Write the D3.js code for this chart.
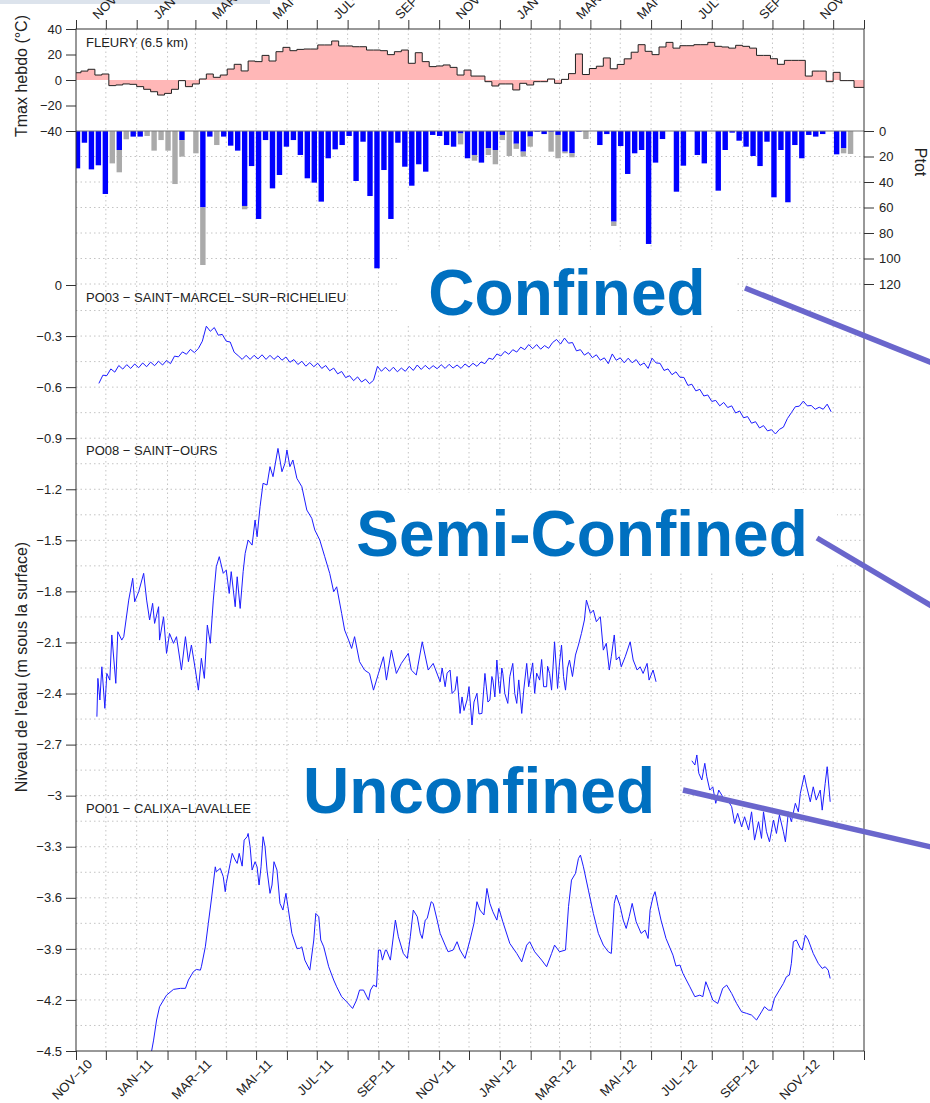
<!DOCTYPE html>
<html>
<head>
<meta charset="utf-8">
<script src="https://cdn.jsdelivr.net/npm/d3@7"></script>
<style>
  body { margin: 0; background: #fff; }
  svg text { font-family: "Liberation Sans", Arial, Helvetica, sans-serif; }
</style>
</head>
<body>
<svg id="chart" width="930" height="1103"></svg>
<script>
// weekly series, week i starts 2010-10-30 + 7*i days
const tmax = [5.7, 7, 8.4, 3.9, 4.7, -4.4, -3.9, -3.1, -3.4, -5.2,
  -7.3, -9.2, -11.8, -10.5, -7.3, -0.5, -5.2, -3.1, 0.8, 4.7,
  2.1, 3.9, 8.6, 12.3, 7.1, 14.9, 14.4, 19.3, 14.9, 22.2,
  25.6, 23, 24, 24.3, 24.3, 27.5, 27.5, 30.6, 26.7, 26.7,
  26.1, 26.1, 23.5, 23.5, 23, 19.9, 22.2, 23.5, 13.1, 21.4,
  14.4, 10.5, 11, 11.8, 9.9, 3.9, 7.8, 3.1, 3.1, -1.3,
  -4.7, -3.1, -3.1, -7.8, -2.6, -3.9, -1.3, -1.3, 0.8, -2.6,
  0.5, 5, 20.4, 4.3, 9, 10.8, 17.3, 8.8, 12.2, 16.6,
  21.8, 27.7, 22.5, 19.9, 25.9, 29.5, 25, 26.9, 26.9, 27.7,
  27.7, 29.5, 26.4, 25.9, 25, 27.2, 26.4, 25, 19.3, 19.3,
  16.7, 12.3, 15.4, 15.4, 15.4, 3.1, 7, 7, -1.3, 6,
  -0.5, -0.5, -5.8, -5.8];

// weekly precipitation: rain (blue) and snow (grey, stacked below)
const rain = [29.3, 9.2, 30.1, 26.9, 49.4, 0, 14.9, 0, 4.4, 4.4,
  0, 0, 0, 0, 0, 7.1, 0, 0, 59.9, 4.4,
  0, 4.4, 11.5, 15.4, 58.8, 27.5, 69, 7.1, 45, 34.5,
  12.3, 7.1, 18.8, 37.1, 40.5, 55.4, 21.4, 14.4, 11, 3.9,
  39.2, 8.4, 51, 107.7, 30.6, 69, 9.2, 28, 42.9, 26.1,
  31.9, 3.1, 3.9, 11, 12.3, 2, 21.4, 18.8, 24.8, 13.6,
  14.9, 3.1, 0, 10, 16.2, 4.4, 0.5, 2.4, 0.6, 3.1,
  16.2, 17.5, 0.5, 0, 0, 11, 2.4, 71.1, 11.8, 33.7,
  17.5, 14.9, 88.6, 24.8, 6.3, 0, 47.6, 27.2, 0, 18.8,
  25.4, 0, 46.8, 14.9, 1.3, 7.6, 12.3, 19.6, 27.5, 8.4,
  52, 14.9, 55.9, 11, 21.4, 3.1, 4.4, 2.4, 0, 18.3,
  13.6, 0, 0];
const snow = [0, 0, 0, 0, 0, 25.4, 17.5, 6.5, 0, 0,
  3.9, 15.4, 7.1, 15.4, 41.6, 13, 0, 17.5, 45.2, 0,
  11, 0, 0, 0, 2.6, 0, 0, 0, 0, 0,
  0, 0, 0, 0, 0, 0, 0, 0, 0, 0,
  0, 0, 0, 0, 0, 0, 0, 0, 0, 0,
  0, 0, 0, 0, 0, 8.5, 0, 4.5, 0, 5.2,
  11.2, 4, 19.6, 4, 3.9, 7.9, 0, 0, 15.6, 18.3,
  1.3, 3.1, 0, 6.3, 0, 0, 0, 3.4, 0, 0,
  0, 0, 0, 0, 0, 0, 0, 0, 0, 0,
  0, 0, 0, 0, 0, 0, 0, 0, 0, 0,
  0, 0, 0, 0, 0, 0, 0, 0, 0, 0,
  3.9, 18, 0];

// PO03: one reading every 4 days from day 23 (days counted from 2010-11-01)
const po03 = [-0.578, -0.530, -0.532, -0.493, -0.512, -0.473, -0.494, -0.468, -0.490, -0.464,
  -0.486, -0.458, -0.480, -0.453, -0.474, -0.448, -0.470, -0.443, -0.462, -0.418,
  -0.422, -0.393, -0.407, -0.378, -0.397, -0.373, -0.330, -0.242, -0.272, -0.250,
  -0.295, -0.290, -0.330, -0.335, -0.395, -0.415, -0.437, -0.413, -0.437, -0.413,
  -0.434, -0.410, -0.437, -0.413, -0.437, -0.416, -0.442, -0.423, -0.454, -0.438,
  -0.467, -0.448, -0.477, -0.456, -0.480, -0.460, -0.490, -0.473, -0.504, -0.488,
  -0.522, -0.508, -0.544, -0.533, -0.562, -0.540, -0.570, -0.553, -0.580, -0.560,
  -0.478, -0.507, -0.483, -0.507, -0.483, -0.510, -0.488, -0.507, -0.478, -0.502,
  -0.470, -0.496, -0.472, -0.494, -0.474, -0.492, -0.468, -0.490, -0.466, -0.488,
  -0.470, -0.490, -0.464, -0.482, -0.460, -0.478, -0.452, -0.462, -0.430, -0.437,
  -0.405, -0.417, -0.390, -0.407, -0.380, -0.394, -0.365, -0.380, -0.350, -0.374,
  -0.350, -0.377, -0.356, -0.372, -0.338, -0.320, -0.347, -0.312, -0.342, -0.338,
  -0.387, -0.380, -0.412, -0.396, -0.427, -0.410, -0.442, -0.428, -0.462, -0.405,
  -0.442, -0.428, -0.457, -0.430, -0.457, -0.438, -0.472, -0.458, -0.490, -0.430,
  -0.458, -0.460, -0.502, -0.493, -0.527, -0.510, -0.542, -0.543, -0.590, -0.583,
  -0.622, -0.613, -0.652, -0.646, -0.684, -0.678, -0.710, -0.690, -0.720, -0.710,
  -0.752, -0.740, -0.780, -0.773, -0.812, -0.803, -0.840, -0.826, -0.857, -0.850,
  -0.875, -0.848, -0.835, -0.785, -0.750, -0.715, -0.712, -0.682, -0.710, -0.708,
  -0.730, -0.718, -0.730, -0.700, -0.745];

// PO08 and PO01: [day since 2010-11-01, level in m]
const po08a = [[21,-2.536],[22,-2.311],[24,-2.438],[26,-2.243],[29,-2.487],[31,-2.282],[34,-2.321],[36,-2.056],
  [40,-2.340],[42,-2.037],[46,-2.086],[48,-2.066],[53,-1.851],[57,-1.723],[59,-1.861],[63,-1.802],
  [68,-1.694],[71,-1.851],[74,-1.968],[77,-1.870],[79,-1.988],[83,-1.890],[84,-2.086],[88,-1.949],
  [91,-2.164],[94,-2.047],[98,-2.105],[101,-2.066],[106,-2.262],[110,-2.066],[113,-2.213],[116,-2.115],
  [120,-2.262],[123,-2.380],[126,-2.193],[129,-2.311],[132,-1.998],[135,-2.105],[138,-1.851],[141,-1.655],
  [144,-1.596],[148,-1.694],[151,-1.675],[154,-1.812],[156,-1.684],[160,-1.890],[162,-1.714],[165,-1.900],
  [168,-1.684],[170,-1.577],[173,-1.498],[177,-1.528],[180,-1.381],[182,-1.479],[185,-1.302],[188,-1.165],
  [192,-1.175],[195,-1.067],[198,-1.126],[203,-0.960],[207,-1.097],[210,-1.048],[212,-0.969],[215,-1.067],
  [218,-1.028],[222,-1.136],[227,-1.185],[232,-1.322],[237,-1.371],[240,-1.439],[245,-1.498],[250,-1.596],
  [255,-1.694],[259,-1.802],[262,-1.773],[267,-1.929],[270,-2.027],[274,-2.086],[277,-2.135],[280,-2.066],
  [285,-2.213],[290,-2.262],[295,-2.282],[299,-2.380],[304,-2.282],[309,-2.184],[312,-2.321],[317,-2.145],
  [322,-2.282],[327,-2.223],[334,-2.164],[337,-2.262],[342,-2.291],[348,-2.096],[354,-2.262],[359,-2.223],
  [366,-2.331],[368,-2.250],[371,-2.360],[373,-2.280],[376,-2.262],[378,-2.400],[381,-2.380],[383,-2.300],
  [386,-2.517],[388,-2.420],[390,-2.500],[393,-2.438],[395,-2.360],[398,-2.585],[400,-2.450],[403,-2.399],
  [405,-2.520],[408,-2.517],[410,-2.360],[411,-2.282],[414,-2.450],[416,-2.438],[418,-2.300],[419,-2.321],
  [421,-2.420],[423,-2.203],[425,-2.350],[426,-2.399],[428,-2.250],[429,-2.282],[431,-2.400],[434,-2.458],
  [436,-2.300],[439,-2.223],[441,-2.400],[443,-2.458],[445,-2.320],[448,-2.517],[450,-2.380],[453,-2.223],
  [455,-2.360],[456,-2.321],[459,-2.220],[461,-2.399],[463,-2.280],[466,-2.321],[468,-2.200],[470,-2.360],
  [473,-2.360],[474,-2.240],[476,-2.282],[478,-2.380],[481,-2.096],[484,-2.370],[486,-2.220],[488,-2.115],
  [490,-2.300],[492,-2.380],[494,-2.250],[496,-2.203],[499,-2.300],[502,-2.174],[505,-2.115],
  [508,-2.047],[511,-1.968],[513,-1.851],[517,-1.929],[520,-1.910],[523,-1.978],[527,-1.949],[530,-2.145],
  [533,-2.105],[536,-2.262],[538,-2.184],[541,-2.056],[543,-2.203],[546,-2.184],[548,-2.243],[552,-2.184],
  [557,-2.096],[560,-2.203],[564,-2.262],[567,-2.243],[570,-2.282],[574,-2.223],[576,-2.321],[580,-2.262],
  [583,-2.331]];
const po08b = [[619,-2.795],[622,-2.820],[624,-2.761],[626,-2.869],[629,-2.908],[632,-2.810],[634,-2.889],
  [637,-2.967],[640,-2.948],[643,-3.045],[646,-2.967],[651,-3.016],[656,-3.036],[659,-3.065],[662,-3.163],
  [665,-3.104],[669,-3.183],[672,-3.124],[676,-3.202],[679,-3.095],[682,-3.261],[686,-3.153],[689,-3.251],
  [691,-3.095],[694,-3.212],[697,-3.271],[701,-3.143],[704,-3.222],[707,-3.114],[711,-3.212],[713,-3.271],
  [716,-3.095],[719,-3.153],[723,-3.045],[726,-3.095],[728,-2.987],[732,-2.879],[734,-2.938],[738,-3.036],
  [741,-2.948],[744,-3.026],[748,-2.967],[750,-3.085],[753,-2.928],[755,-2.830],[757,-2.967],[758,-3.036]];
const po01 = [[76,-4.5],[78,-4.436],[81,-4.318],[84,-4.240],[91,-4.172],[98,-4.138],[105,-4.132],[110,-4.132],
  [113,-4.083],[118,-4.034],[121,-4.021],[125,-4.025],[126,-4.005],[130,-3.888],[133,-3.750],[136,-3.613],
  [140,-3.418],[141,-3.447],[145,-3.427],[148,-3.476],[150,-3.564],[151,-3.515],[155,-3.398],[157,-3.339],
  [160,-3.378],[162,-3.398],[164,-3.339],[167,-3.414],[169,-3.261],[172,-3.241],[173,-3.222],[175,-3.300],
  [177,-3.437],[180,-3.388],[182,-3.418],[184,-3.525],[186,-3.418],[188,-3.241],[190,-3.300],[192,-3.437],
  [195,-3.574],[197,-3.525],[199,-3.388],[202,-3.437],[205,-3.633],[208,-3.672],[211,-3.574],[213,-3.652],
  [217,-3.809],[222,-3.897],[225,-3.897],[227,-3.888],[230,-3.966],[235,-4.025],[239,-3.848],[241,-3.692],
  [244,-3.711],[246,-3.848],[249,-3.888],[254,-4.005],[259,-4.083],[262,-4.123],[267,-4.181],[272,-4.211],
  [278,-4.250],[282,-4.201],[285,-4.142],[289,-4.142],[294,-4.201],[296,-4.142],[299,-4.113],[302,-4.123],
  [304,-3.907],[306,-3.907],[308,-3.966],[311,-3.907],[312,-3.907],[316,-3.966],[321,-3.731],[324,-3.829],
  [329,-3.927],[333,-3.956],[336,-3.829],[339,-3.672],[343,-3.711],[346,-3.809],[348,-3.839],[351,-3.731],
  [353,-3.721],[357,-3.623],[359,-3.633],[363,-3.731],[366,-3.809],[371,-3.878],[374,-3.917],[379,-3.907],
  [383,-3.858],[386,-3.907],[391,-3.956],[396,-3.848],[400,-3.750],[403,-3.623],[406,-3.672],[410,-3.701],
  [413,-3.545],[416,-3.633],[419,-3.682],[423,-3.731],[425,-3.662],[429,-3.741],[436,-3.868],[443,-3.927],
  [448,-3.976],[453,-3.878],[456,-3.858],[461,-3.917],[468,-3.966],[473,-4.005],[478,-3.927],[481,-3.878],
  [486,-3.917],[492,-3.907],[495,-3.652],[498,-3.496],[502,-3.457],[505,-3.369],[507,-3.349],[510,-3.418],
  [515,-3.555],[520,-3.692],[525,-3.809],[530,-3.878],[535,-3.917],[538,-3.927],[541,-3.633],[543,-3.584],
  [547,-3.652],[550,-3.731],[553,-3.780],[556,-3.711],[559,-3.633],[563,-3.741],[568,-3.809],[572,-3.790],
  [575,-3.839],[577,-3.672],[580,-3.594],[582,-3.564],[585,-3.652],[588,-3.731],[593,-3.839],[600,-3.937],
  [603,-4.001],[607,-3.995],[610,-4.044],[617,-4.123],[622,-4.181],[627,-4.172],[630,-4.181],[633,-4.093],
  [637,-4.152],[640,-4.201],[645,-4.221],[650,-4.132],[654,-4.113],[659,-4.162],[664,-4.221],[669,-4.270],
  [674,-4.279],[679,-4.289],[684,-4.318],[689,-4.270],[692,-4.240],[696,-4.260],[699,-4.260],[702,-4.191],
  [707,-4.142],[711,-4.103],[714,-4.064],[717,-4.054],[719,-3.985],[721,-3.858],[724,-3.848],[728,-3.897],
  [730,-3.907],[733,-3.819],[736,-3.848],[741,-3.927],[746,-3.985],[750,-4.015],[753,-4.005],[756,-4.025],
  [758,-4.074]];

const tempTicks = [40, 20, 0, -20, -40];
const precipTicks = [0, 20, 40, 60, 80, 100, 120];
const levelTicks = d3.range(0, 16).map(i => -i * 3 / 10);
const monthNames = ["JAN", "FEV", "MAR", "AVR", "MAI", "JUN", "JUL", "AOU", "SEP", "OCT", "NOV", "DEC"];
const panelNames = ["FLEURY (6.5 km)", "PO03 \u2212 SAINT\u2212MARCEL\u2212SUR\u2212RICHELIEU",
  "PO08 \u2212 SAINT\u2212OURS", "PO01 \u2212 CALIXA\u2212LAVALLEE"];

const svg = d3.select("#chart");
const L = 76, R = 864, T = 29, B = 1051;

const origin = new Date(Date.UTC(2010, 10, 1));
const day = d => new Date(origin.getTime() + d * 864e5);
const x = d3.scaleUtc().domain([origin, new Date(Date.UTC(2013, 0, 1))]).range([L, R]);
const yT = d3.scaleLinear().domain([-40, 40]).range([131, T]);
const yP = d3.scaleLinear().domain([0, 120]).range([131, 284]);
const yW = d3.scaleLinear().domain([-4.5, 0]).range([B, 285]);

svg.append("rect").attr("x", 0).attr("y", 0).attr("width", 270).attr("height", 4).attr("fill", "#dce3ec");

svg.append("clipPath").attr("id", "plot")
  .append("rect").attr("x", L).attr("y", T).attr("width", R - L).attr("height", B - T);

// grid
const months = d3.utcMonth.range(origin, new Date(Date.UTC(2013, 0, 2)));
const grid = svg.append("g").attr("stroke", "#c4c4c4").attr("stroke-dasharray", "1.5,3");
grid.selectAll(".v").data(months.slice(1, -1)).join("line")
  .attr("x1", d => x(d)).attr("x2", d => x(d)).attr("y1", T).attr("y2", B);
grid.selectAll(".hp").data(precipTicks.slice(1)).join("line")
  .attr("x1", L).attr("x2", R).attr("y1", d => yP(d)).attr("y2", d => yP(d));
grid.selectAll(".hw").data(d3.range(1, 30).map(i => -i * 0.15)).join("line")
  .attr("x1", L).attr("x2", R).attr("y1", d => yW(d)).attr("y2", d => yW(d));

// white boxes of the slide labels
const boxes = [[400, 250, 335, 73], [350, 493, 487, 79], [290, 745, 390, 93]];
svg.selectAll(".box").data(boxes).join("rect")
  .attr("x", d => d[0]).attr("y", d => d[1]).attr("width", d => d[2]).attr("height", d => d[3])
  .attr("fill", "#fff");

const plot = svg.append("g").attr("clip-path", "url(#plot)");

// temperature steps
const weeks = tmax.map((t, i) => ({ date: day(-2 + 7 * i), t }));
weeks.push({ date: day(-2 + 7 * tmax.length), t: tmax[tmax.length - 1] });
plot.append("path").datum(weeks)
  .attr("fill", "#ffb7b7")
  .attr("d", d3.area().curve(d3.curveStepAfter).x(d => x(d.date)).y0(yT(0)).y1(d => yT(d.t)));
plot.append("path").datum(weeks)
  .attr("fill", "none").attr("stroke", "#222").attr("stroke-width", 1)
  .attr("d", d3.line().curve(d3.curveStepAfter).x(d => x(d.date)).y(d => yT(d.t)));

// precipitation bars
const bars = rain.map((r, i) => ({ mid: day(1.5 + 7 * i), r, s: snow[i] }));
plot.selectAll(".rain").data(bars).join("rect")
  .attr("x", d => x(d.mid) - 2.7).attr("width", 5.4)
  .attr("y", yP(0)).attr("height", d => yP(d.r) - yP(0))
  .attr("fill", "#0000ff");
plot.selectAll(".snow").data(bars.filter(d => d.s > 0)).join("rect")
  .attr("x", d => x(d.mid) - 2.7).attr("width", 5.4)
  .attr("y", d => yP(d.r)).attr("height", d => yP(d.r + d.s) - yP(d.r))
  .attr("fill", "#aaaaaa");

// water levels
const lvl = d3.line().x(d => x(day(d[0]))).y(d => yW(d[1]));
const po03pts = po03.map((v, k) => [23 + 4 * k, v]);
[po03pts, po08a, po08b, po01].forEach(s => {
  plot.append("path").datum(s)
    .attr("fill", "none").attr("stroke", "#1c1cff").attr("stroke-width", 1)
    .attr("stroke-linejoin", "round").attr("d", lvl);
});

// frame and axes
svg.append("line").attr("x1", L).attr("x2", R).attr("y1", 131).attr("y2", 131)
  .attr("stroke", "#777");
svg.append("rect").attr("x", L).attr("y", T).attr("width", R - L).attr("height", B - T)
  .attr("fill", "none").attr("stroke", "#333");

function style(g) {
  g.select(".domain").remove();
  g.selectAll(".tick line").attr("stroke", "#333");
  g.selectAll(".tick text").attr("fill", "#222").attr("font-size", 13)
    .attr("font-family", "Liberation Sans, Arial, sans-serif");
}
svg.append("g").attr("transform", `translate(${L},0)`)
  .call(d3.axisLeft(yT).tickValues(tempTicks).tickSize(10).tickPadding(4).tickFormat(d3.format("d")))
  .call(style);
svg.append("g").attr("transform", `translate(${L},0)`)
  .call(d3.axisLeft(yW).tickValues(levelTicks).tickSize(10).tickPadding(4).tickFormat(d3.format("~g")))
  .call(style);
svg.append("g").attr("transform", `translate(${R},0)`)
  .call(d3.axisRight(yP).tickValues(precipTicks).tickSize(10).tickPadding(5).tickFormat(d3.format("d")))
  .call(style);
svg.append("g").attr("transform", `translate(0,${B})`)
  .call(d3.axisBottom(x).tickValues(months).tickSize(9).tickFormat(""))
  .call(style);
svg.append("g").attr("transform", `translate(0,${T})`)
  .call(d3.axisTop(x).tickValues(months).tickSize(9).tickFormat(""))
  .call(style);

// month labels every second month, NOV-10 to NOV-12
const labelled = months.filter((d, i) => i % 2 === 0 && i < months.length - 1);
const mlabel = d => monthNames[d.getUTCMonth()] + "\u2212" + String(d.getUTCFullYear()).slice(2);
svg.selectAll(".bl").data(labelled).join("text")
  .attr("transform", d => `translate(${x(d) + 17},1065) rotate(-45)`)
  .attr("text-anchor", "end").attr("font-size", 13).attr("fill", "#222").text(mlabel);
svg.selectAll(".tl").data(labelled).join("text")
  .attr("transform", d => `translate(${x(d) + 22},20) rotate(-45)`)
  .attr("text-anchor", "start").attr("font-size", 13).attr("fill", "#222").text(mlabel);

// axis titles
svg.append("text").attr("transform", "translate(27,76) rotate(-90)")
  .attr("text-anchor", "middle").attr("font-size", 16).attr("fill", "#222").text("Tmax hebdo (\u00b0C)");
svg.append("text").attr("transform", "translate(27,667) rotate(-90)")
  .attr("text-anchor", "middle").attr("font-size", 16).attr("fill", "#222").text("Niveau de l'eau (m sous la surface)");
svg.append("text").attr("transform", "translate(915,162) rotate(90)")
  .attr("text-anchor", "middle").attr("font-size", 16).attr("fill", "#222").text("Ptot");

// panel names
const namePos = [47, 302, 455, 813];
svg.selectAll(".pn").data(panelNames).join("text")
  .attr("x", 86).attr("y", (d, i) => namePos[i])
  .attr("font-size", 13).attr("fill", "#222").text(d => d);

// slide annotations
const notes = [["Confined", 567, 315], ["Semi-Confined", 582, 556], ["Unconfined", 479, 813]];
svg.selectAll(".note").data(notes).join("text")
  .attr("x", d => d[1]).attr("y", d => d[2]).attr("text-anchor", "middle")
  .attr("font-size", 64).attr("font-weight", "bold").attr("fill", "#0070c0").text(d => d[0]);
const arrows = [[745, 288, 940, 366], [817, 538, 940, 611], [683, 790, 940, 849]];
svg.selectAll(".arrow").data(arrows).join("line")
  .attr("x1", d => d[0]).attr("y1", d => d[1]).attr("x2", d => d[2]).attr("y2", d => d[3])
  .attr("stroke", "#6a66cc").attr("stroke-width", 5.5);
</script>
</body>
</html>
